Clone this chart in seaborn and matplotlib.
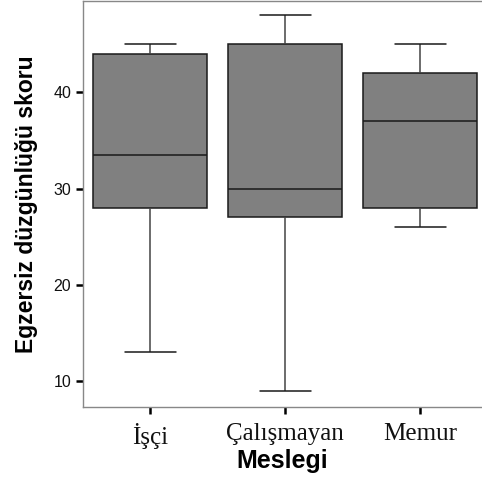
import matplotlib
matplotlib.use("Agg")
import matplotlib.pyplot as plt
from matplotlib import font_manager as fm
import seaborn as sns
import pandas as pd

categories = ["İşçi", "Çalışmayan", "Memur"]
isci = [13, 28, 33.5, 44, 45]
calismayan = [9, 27, 30, 45, 48]
memur = [26, 28, 37, 42, 45]
yticks = [10, 20, 30, 40]

df = pd.DataFrame({
    "Meslegi": [categories[0]] * len(isci) + [categories[1]] * len(calismayan) + [categories[2]] * len(memur),
    "skor": isci + calismayan + memur,
})

sns.set_style("white")
plt.rcParams["font.family"] = ["Liberation Sans", "DejaVu Sans"]

bold_file = None
for f in fm.fontManager.ttflist:
    if f.name == "Liberation Sans" and f.weight in (700, "bold") and f.style == "normal":
        bold_file = f.fname
        break

def bold(size):
    if bold_file:
        return dict(fontproperties=fm.FontProperties(fname=bold_file, size=size))
    return dict(fontsize=size, fontweight="bold")

fig = plt.figure(figsize=(4.82, 4.80), dpi=100)
ax = fig.add_axes([83 / 482, (480 - 406.7) / 480, (482 - 83) / 482, (406.7 - 1.3) / 480])

sns.boxplot(data=df, x="Meslegi", y="skor", order=categories, ax=ax,
            whis=(0, 100), width=0.844, color="#808080", saturation=1,
            linecolor="#1a1a1a", linewidth=1.1, capwidths=0.38,
            whiskerprops=dict(color="#444444"))

ax.set_xlim(-0.4985, 2.457)
ax.set_ylim(7.33, 49.45)
ax.set_yticks(yticks)
ax.set_yticklabels([str(v) for v in yticks], fontsize=11.5, color="#111111")
ax.set_xticks(range(len(categories)))
ax.set_xticklabels(categories, fontsize=18, family=["Liberation Serif", "DejaVu Serif"], color="#111111")

ax.tick_params(axis="both", direction="out", length=5, width=1.8, color="black",
               bottom=True, left=True)
ax.tick_params(axis="x", pad=7)
ax.tick_params(axis="y", pad=3.5)

for side in ["left", "top", "bottom"]:
    ax.spines[side].set_color("#888888")
    ax.spines[side].set_linewidth(1.0)
    ax.spines[side].set_visible(True)
ax.spines["right"].set_visible(False)

ax.set_xlabel("Meslegi", color="black", **bold(18))
ax.set_ylabel("Egzersiz düzgünlüğü skoru", color="black", **bold(16.5))
ax.xaxis.set_label_coords(0.5, -0.104)
ax.yaxis.set_label_coords(-0.113, 0.5)

fig.savefig("out.png", dpi=100)
